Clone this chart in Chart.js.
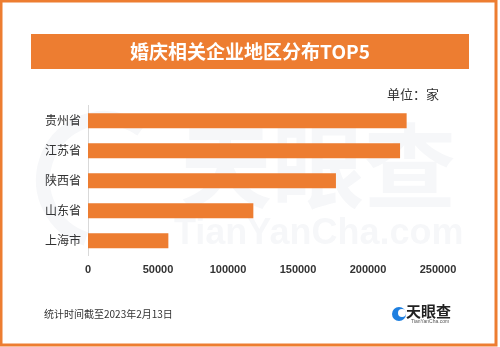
<!DOCTYPE html>
<html>
<head>
<meta charset="utf-8">
<script src="https://cdn.jsdelivr.net/npm/chart.js@4"></script>
<style>
  html, body { margin: 0; padding: 0; background: #fff; }
  #wrap { width: 500px; height: 347px; position: relative; }
</style>
</head>
<body>
<div id="wrap"><canvas id="chart" width="500" height="347"></canvas></div>
<script>
// data
const regions = ["贵州省", "江苏省", "陕西省", "山东省", "上海市"];
const companyCounts = [227600, 222900, 177100, 118100, 57400];
const xTicks = [0, 50000, 100000, 150000, 200000, 250000];

const titleText = "婚庆相关企业地区分布TOP5";
const unitText = "单位：家";
const footText = "统计时间截至2023年2月13日";

const orange = "#ED7D31";
const cjk = "'Noto Sans CJK SC', 'Noto Sans', sans-serif";

//frame, banner, watermark and footer drawn on the same canvas
const decor = {
    id: "decor",
    beforeDatasetsDraw(chart) {
        const ctx = chart.ctx;
        ctx.save();
        //faint watermark
        ctx.globalAlpha = 0.04;
        ctx.fillStyle = "#1f3f6f";
        ctx.strokeStyle = "#1f3f6f";
        ctx.lineWidth = 14;
        ctx.beginPath();
        ctx.arc(105, 180, 62, Math.PI * 0.6, Math.PI * 1.7);
        ctx.stroke();
        ctx.font = "bold 92px " + cjk;
        ctx.textAlign = "left";
        ctx.textBaseline = "middle";
        ctx.fillText("天眼查", 180, 166);
        ctx.font = "bold 36px 'Liberation Sans', sans-serif";
        ctx.fillText("TianYanCha.com", 174, 234);
        ctx.restore();
    },
    afterDraw(chart) {
        const ctx = chart.ctx;
        ctx.save();
        //outer frame
        ctx.strokeStyle = orange;
        ctx.lineWidth = 3;
        ctx.strokeRect(1, 1, 495, 344);

        //title banner
        ctx.fillStyle = orange;
        ctx.fillRect(31, 34, 438, 35);
        ctx.fillStyle = "#fff";
        ctx.font = "bold 19px " + cjk;
        ctx.textAlign = "center";
        ctx.textBaseline = "middle";
        ctx.fillText(titleText, 250, 52);

        //unit
        ctx.fillStyle = "#333";
        ctx.font = "13px " + cjk;
        ctx.textAlign = "left";
        ctx.fillText(unitText, 387, 94);

        //footer
        ctx.font = "10px " + cjk;
        ctx.fillText(footText, 44, 314);

        //logo
        ctx.fillStyle = "#1e7fe0";
        ctx.beginPath();
        ctx.arc(399, 314, 7, 0, Math.PI * 2);
        ctx.fill();
        ctx.fillStyle = "#fff";
        ctx.beginPath();
        ctx.arc(402, 313, 4, 0, Math.PI * 2);
        ctx.fill();
        ctx.fillStyle = "#222";
        ctx.font = "bold 15px " + cjk;
        ctx.fillText("天眼查", 406, 311);
        ctx.font = "5px 'Liberation Sans', sans-serif";
        ctx.fillStyle = "#555";
        ctx.fillText("TianYanCha.com", 411, 322);
        ctx.restore();
    }
};

const chart = new Chart(document.getElementById("chart").getContext("2d"), {
    type: "bar",
    data: {
        labels: regions,
        datasets: [
            {
                data: companyCounts,
                backgroundColor: orange,
                borderWidth: 0,
                categoryPercentage: 1,
                barPercentage: 0.5,
            },
        ],
    },
    options: {
        indexAxis: "y",
        responsive: false,
        animation: false,
        layout: {
            padding: { left: 0, right: 62, top: 105.7, bottom: 66.3 },
        },
        plugins: {
            legend: { display: false },
            tooltip: { enabled: false },
        },
        scales: {
            x: {
                min: 0,
                max: 250000,
                afterBuildTicks: (scale) => {
                    scale.ticks = xTicks.map((v) => ({ value: v }));
                },
                afterFit: (scale) => { scale.height = 25; },
                grid: { display: false, drawTicks: false },
                border: { display: false },
                ticks: {
                    padding: 8,
                    color: "#333",
                    maxRotation: 0,
                    callback: (v) => String(v),
                    font: { family: "'Liberation Sans', sans-serif", size: 11, weight: "bold" },
                },
            },
            y: {
                afterFit: (scale) => { scale.width = 88; },
                grid: { display: false, drawTicks: false },
                border: { display: true, color: "#d9d9d9", width: 1 },
                ticks: {
                    padding: 7,
                    color: "#333",
                    font: { family: cjk, size: 12 },
                },
            },
        },
    },
    plugins: [decor],
});
</script>
</body>
</html>
